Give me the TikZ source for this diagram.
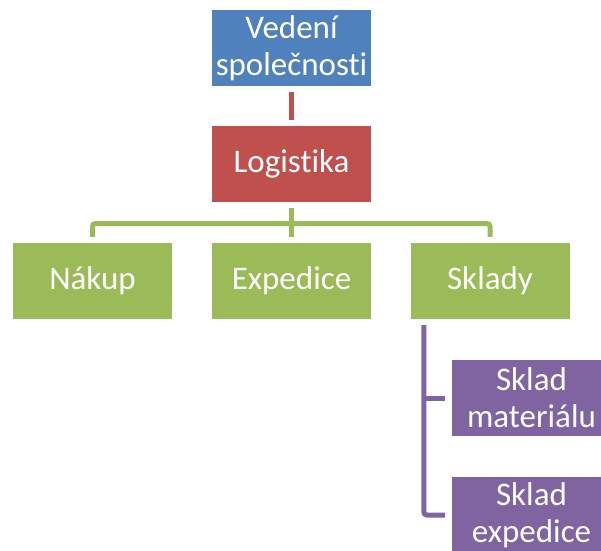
\documentclass[tikz,border=0pt]{standalone}
\usepackage{fontspec}
\setmainfont{Carlito}[Ligatures={NoCommon}]
\definecolor{oblue}{HTML}{4F81BD}
\definecolor{ored}{HTML}{C0504D}
\definecolor{ogreen}{HTML}{9BBB59}
\definecolor{opurple}{HTML}{8064A2}
\tikzset{
  box/.style={minimum width=159pt, minimum height=76pt, inner sep=0pt, text=white,
    align=center, font=\fontsize{33}{37}\selectfont},
  conn/.style={line width=5pt, rounded corners=3pt},
}
\begin{document}
\begin{tikzpicture}[x=1pt,y=-1pt]
\useasboundingbox (0,0) rectangle (601,550);
\clip (0,0) rectangle (601,550);
\node[box, fill=oblue] (ved) at (291.5,48) {Vedení\\společnosti};
\node[box, fill=ored] (log) at (291.5,164) {Logistika};
\node[box, fill=ogreen] (nakup) at (92.5,281) {Nákup};
\node[box, fill=ogreen] (exped) at (291.5,281) {Expedice};
\node[box, fill=ogreen] (sklady) at (490,281) {Sklady};
\node[box, fill=opurple] (mat) at (531.5,398) {Sklad\\materiálu};
\node[box, fill=opurple] (exp2) at (531.5,515) {Sklad\\expedice};
% red connector
\draw[conn, ored] ([yshift=-6pt]ved.south) -- ([yshift=6pt]log.north);
% green connectors
\coordinate (bus) at (291.5,223.5);
\draw[conn, ogreen] ([yshift=6pt]nakup.north) |- (bus) -| ([yshift=6pt]sklady.north);
\draw[conn, ogreen] ([yshift=-6pt]log.south) -- ([yshift=6pt]exped.north);
% purple connectors
\coordinate (ptop) at ([xshift=13.5pt,yshift=-6pt]sklady.south west);
\draw[conn, opurple] (ptop) |- ([xshift=-7pt]exp2.west);
\draw[conn, opurple] (ptop |- mat.west) -- ([xshift=-7pt]mat.west);
\end{tikzpicture}
\end{document}
